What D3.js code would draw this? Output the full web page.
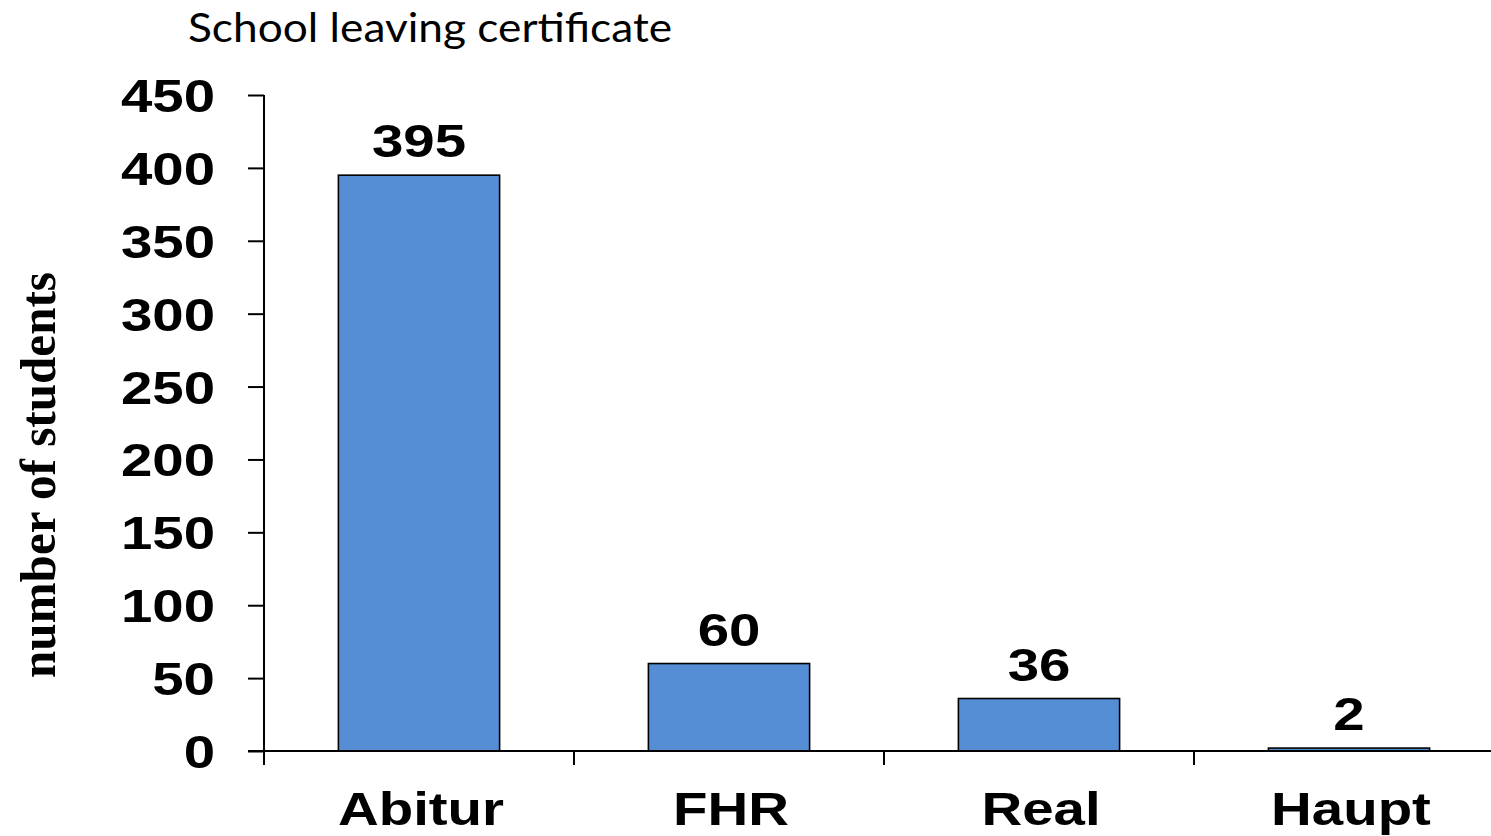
<!DOCTYPE html>
<html><head><meta charset="utf-8">
<script src="https://cdn.jsdelivr.net/npm/d3@7"></script>
<style>body{margin:0;background:#fff}svg{display:block}</style>
</head><body>
<svg id="c" width="1491" height="836"></svg>
<script>
const categories = ["Abitur", "FHR", "Real", "Haupt"];
const values = [395, 60, 36, 2];
const yTicks = [0, 50, 100, 150, 200, 250, 300, 350, 400, 450];
const title = "School leaving certificate";
const yTitle = "number of students";

const svg = d3.select("#c");
const x = d3.scaleBand().domain(categories).range([264, 1504]).paddingInner(0.48).paddingOuter(0.24);
const y = d3.scaleLinear().domain([0, 450]).range([751, 95]);
const sx = 1.2;
const boldFont = "'Liberation Sans', Arial, sans-serif";

// bars
svg.selectAll("rect.bar").data(values).join("rect")
  .attr("class","bar")
  .attr("x",(d,i)=>x(categories[i]))
  .attr("width",x.bandwidth())
  .attr("y",d=>y(d))
  .attr("height",d=>y(0)-y(d))
  .attr("fill","#558ED5")
  .attr("stroke","#000").attr("stroke-width",1.6);

// y axis
const yAxis = d3.axisLeft(y).tickValues(yTicks).tickSize(16).tickFormat("");
const gy = svg.append("g").attr("transform","translate(264,0)").call(yAxis);
gy.select(".domain").attr("stroke","#000").attr("stroke-width",2).attr("d","M0,95V751");
gy.selectAll(".tick line").attr("stroke","#000").attr("stroke-width",2);

svg.selectAll("text.ytl").data(yTicks).join("text")
  .attr("class","ytl")
  .attr("transform",d=>`translate(215,${y(d)+17}) scale(${sx},1)`)
  .attr("text-anchor","end")
  .attr("font-family",boldFont).attr("font-weight","bold").attr("font-size",47)
  .text(d=>d);

// x axis
const step = x.step();
const x0 = x.range()[0];
svg.append("line").attr("x1",248).attr("x2",1491).attr("y1",y(0)).attr("y2",y(0))
  .attr("stroke","#000").attr("stroke-width",2.2);
svg.selectAll("line.xt").data(d3.range(categories.length)).join("line")
  .attr("class","xt")
  .attr("x1",i=>x0+i*step).attr("x2",i=>x0+i*step)
  .attr("y1",y(0)).attr("y2",y(0)+14)
  .attr("stroke","#000").attr("stroke-width",2);

svg.selectAll("text.xl").data(categories).join("text")
  .attr("class","xl")
  .attr("transform",d=>`translate(${x(d)+x.bandwidth()/2+2},825) scale(${sx},1)`)
  .attr("text-anchor","middle")
  .attr("font-family",boldFont).attr("font-weight","bold").attr("font-size",47)
  .text(d=>d);

// value labels
svg.selectAll("text.vl").data(values).join("text")
  .attr("class","vl")
  .attr("transform",(d,i)=>`translate(${x(categories[i])+x.bandwidth()/2},${y(d)-18}) scale(${sx},1)`)
  .attr("text-anchor","middle")
  .attr("font-family",boldFont).attr("font-weight","bold").attr("font-size",47)
  .text(d=>d);

// y title
svg.append("text")
  .attr("transform","translate(55,475) rotate(-90)")
  .attr("text-anchor","middle")
  .attr("font-family","'Liberation Serif', 'Times New Roman', serif").attr("font-weight","bold").attr("font-size",50)
  .attr("textLength",406).attr("lengthAdjust","spacingAndGlyphs")
  .text(yTitle);

// title
svg.append("text")
  .attr("x",188).attr("y",42)
  .attr("font-family","Lato, 'Open Sans', sans-serif").attr("font-size",40)
  .attr("textLength",484).attr("lengthAdjust","spacingAndGlyphs")
  .text(title);
</script>
</body></html>
